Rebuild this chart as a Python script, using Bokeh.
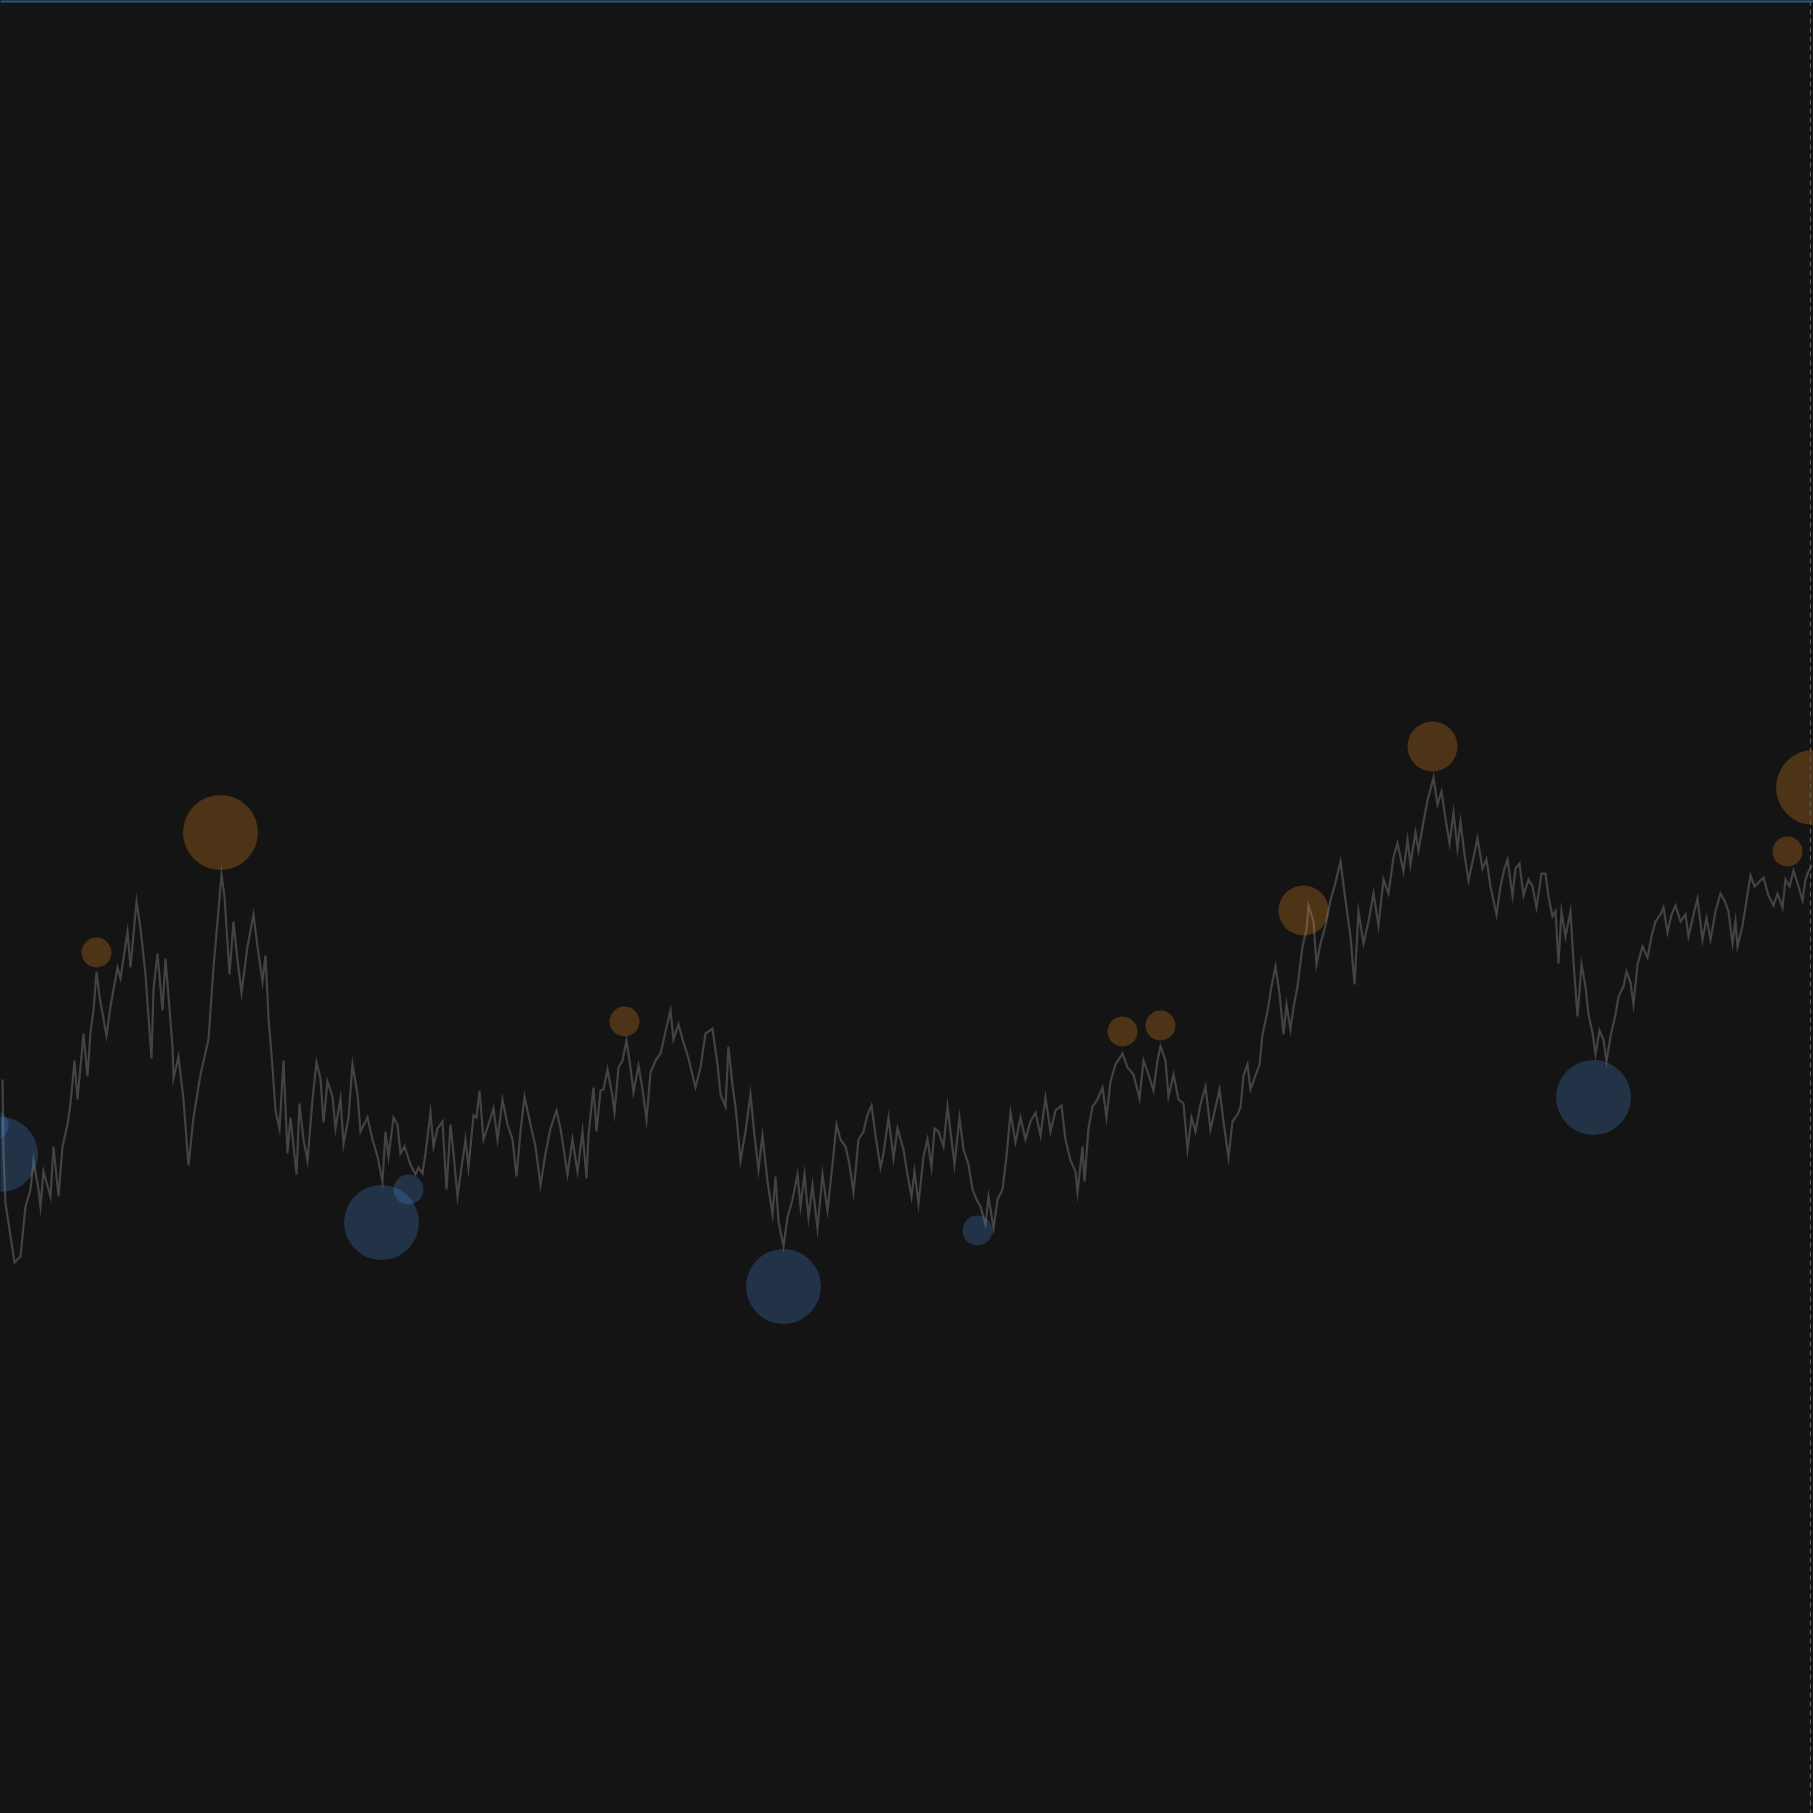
from bokeh.plotting import figure
from bokeh.models import Range1d, Span, ColumnDataSource, GlobalInlineStyleSheet
from bokeh.embed import file_html
from bokeh.resources import INLINE

# ---- price path (day index, price) ----
day = [2, 3, 5, 14, 20, 25, 30, 33, 38, 40, 43, 50, 53, 58, 62, 67, 70, 74, 77, 83, 87, 90, 93, 96, 99,
       106, 110, 117, 120, 127, 130, 136, 140, 145, 151, 153, 157, 162, 165, 172, 173, 178, 183, 188, 193,
       200, 208, 213, 217, 221, 224, 229, 233, 237, 241, 247, 253, 257, 262, 265, 268, 272, 275, 279, 283,
       287, 290, 296, 299,
       303, 307, 312, 316, 320, 323, 327, 332, 335, 340, 343, 348, 352, 357, 360, 367, 372, 377, 382, 385,
       388, 393, 397, 400, 404, 410, 415, 418, 422, 425, 430, 433, 437, 442, 446, 450, 453, 457, 461, 465,
       468, 473, 476, 479, 483, 488, 493, 497, 502, 507, 512, 516, 520, 524, 530, 535, 540, 545, 550, 556,
       560, 567, 572, 577, 582, 586, 588, 593, 596, 600,
       603, 607, 612, 614, 618, 622, 626, 630, 633, 638, 642, 646, 650, 655, 660, 665, 670, 673, 678, 683,
       688, 695, 700, 705, 712, 717, 720, 725, 728, 732, 735, 740, 745, 750, 754, 758, 762, 767, 772, 775,
       778, 783, 787, 792, 797, 800, 804, 808, 812, 817, 822, 827, 832, 836, 840, 845, 849, 853, 858, 863,
       867, 871, 875, 880, 883, 888, 893, 897,
       903, 907, 911, 914, 918, 923, 927, 931, 934, 938, 943, 947, 950, 954, 959, 963, 968, 972, 976, 980,
       985, 988, 993, 997, 1002, 1006, 1010, 1015, 1020, 1025, 1030, 1035, 1040, 1045, 1050, 1055, 1061,
       1065, 1070, 1075, 1077, 1082, 1084, 1088, 1092, 1097, 1102, 1106, 1110, 1115, 1122, 1127, 1133, 1139,
       1143, 1148, 1153, 1157, 1160, 1165, 1168, 1173, 1178, 1183, 1187, 1191, 1195,
       1200, 1205, 1210, 1215, 1219, 1223, 1228, 1232, 1237, 1240, 1243, 1247, 1250, 1255, 1259, 1262, 1267,
       1271, 1275, 1279, 1283, 1286, 1290, 1293, 1297, 1302, 1306, 1308, 1313, 1316, 1320, 1325, 1330, 1335,
       1340, 1345, 1350, 1354, 1358, 1363, 1368, 1373, 1378, 1383, 1388, 1393, 1397, 1403, 1407, 1410, 1415,
       1418, 1423, 1427, 1430, 1433, 1437, 1441, 1445, 1449, 1453, 1457, 1460, 1464, 1468, 1473, 1477, 1482,
       1486, 1490, 1496,
       1500, 1504, 1507, 1512, 1515, 1519, 1523, 1528, 1532, 1536, 1541, 1545, 1548, 1552, 1555, 1558, 1561,
       1565, 1570, 1573, 1577, 1581, 1585, 1588, 1592, 1595, 1599, 1603, 1606, 1610, 1615, 1618, 1623, 1626,
       1630, 1633, 1637, 1642, 1647, 1651, 1655, 1660, 1663, 1667, 1671, 1675, 1680, 1685, 1688, 1693, 1697,
       1702, 1706, 1710, 1715, 1720, 1724, 1728, 1732, 1735, 1737, 1742, 1746, 1750, 1754, 1758, 1763, 1768,
       1773, 1777, 1782, 1785, 1789, 1793, 1798, 1802, 1805, 1808, 1811]

price = [73.4, 66.0, 61.0, 55.1, 55.7, 60.7, 62.4, 65.3, 62.4, 60.7, 64.2, 61.7, 66.7, 61.7, 66.7, 68.9, 71.0,
         75.3, 71.4, 78.0, 73.7, 78.2, 80.3, 84.2, 81.7, 77.8, 80.7, 84.6, 83.5, 88.2, 84.6, 91.2, 88.5, 83.9,
         75.5, 82.4, 86.0, 80.3, 85.5, 76.7, 73.5, 75.7, 71.4, 64.8, 69.6, 73.9, 77.4, 84.6, 89.2, 93.9, 91.7,
         83.9, 89.2, 85.3, 82.1, 86.7, 89.9, 86.7, 83.2, 85.8, 79.6, 74.6, 70.3, 68.5, 75.3, 66.0, 69.6, 63.9,
         71.0,
         67.4, 65.3, 71.4, 75.1, 73.5, 69.1, 73.2, 71.7, 68.5, 71.5, 66.9, 69.6, 74.9, 71.9, 68.2, 69.6, 67.4,
         65.7, 63.2, 68.2, 65.7, 69.6, 68.9, 66.0, 66.7, 64.9, 63.9, 64.6, 64.0, 66.0, 70.1, 66.7, 68.5, 69.2,
         62.4, 68.9, 66.0, 61.7, 64.6, 67.4, 64.6, 69.8, 69.6, 72.3, 67.4, 68.9, 70.5, 67.4, 71.4, 68.9, 67.4,
         63.7, 68.2, 71.7, 68.9, 66.7, 62.8, 66.0, 68.5, 70.3, 68.5, 63.9, 67.4, 64.2, 68.2, 63.5, 67.8, 72.6,
         68.2, 72.3,
         72.4, 74.4, 71.7, 70.1, 74.6, 75.3, 77.3, 74.6, 72.1, 74.8, 72.4, 69.4, 74.1, 75.3, 76.0, 78.2, 80.3,
         77.4, 78.9, 77.1, 75.5, 72.6, 74.6, 78.0, 78.5, 74.9, 71.9, 70.7, 76.7, 72.8, 70.7, 65.3, 68.2, 71.9,
         67.8, 64.4, 67.8, 63.2, 59.9, 63.7, 59.2, 56.7, 59.6, 61.4, 63.9, 60.7, 63.9, 59.6, 62.8, 58.5, 63.9,
         60.3, 64.9, 68.9, 67.4, 66.7, 64.9, 62.1, 67.4, 68.2, 69.9, 70.8, 67.8, 64.6, 66.0, 69.6, 65.5, 68.5,
         66.4, 63.9, 61.7, 64.2, 61.0, 65.7, 67.4, 64.6, 68.5, 68.2, 66.7, 70.7, 68.2, 64.9, 69.6, 66.4, 64.9,
         62.4, 61.4, 60.7, 58.9, 61.7, 58.5, 61.4, 62.4, 65.7, 70.1, 67.1, 69.6, 67.4, 69.2, 70.1, 67.8, 71.6,
         68.2, 70.3, 70.8, 67.4, 65.3, 64.2, 62.1, 66.7, 63.2, 68.5, 70.7, 71.4, 72.6, 69.6, 73.2, 74.9, 76.0,
         74.6, 73.9, 71.5, 75.3, 73.9, 72.3, 75.3, 76.7, 75.3, 71.7, 73.9, 71.4, 71.0, 66.4, 69.6, 68.2,
         70.9, 72.7, 68.4, 70.6, 72.4, 69.2, 65.6, 69.2, 69.9, 70.6, 73.8, 74.9, 72.4, 73.8, 74.9, 77.9, 80.2,
         82.7, 84.7, 82.0, 77.9, 80.9, 78.4, 80.6, 82.7, 86.7, 88.4, 90.8, 89.2, 84.9, 87.0, 88.8, 91.3, 93.1,
         95.2, 91.3, 87.7, 82.9, 90.2, 87.0, 89.2, 92.0, 88.8, 93.4, 92.0, 95.6, 97.0, 94.2, 97.4, 94.9, 98.1,
         96.3, 99.2, 101.3, 102.4, 103.6, 100.9, 102.2, 99.5, 97.0, 100.1, 96.5, 99.2, 95.9, 93.3, 95.6, 97.5,
         94.5, 95.4, 92.7, 89.9,
         92.7, 94.5, 95.4, 91.8, 94.5, 95.0, 91.8, 93.4, 92.7, 90.6, 94.0, 94.0, 91.7, 89.7, 90.2, 85.0, 90.2,
         87.7, 90.2, 85.2, 79.7, 84.9, 82.7, 79.9, 78.1, 75.9, 78.3, 77.4, 75.2, 77.7, 79.9, 81.7, 82.7, 84.2,
         83.1, 80.9, 84.9, 86.7, 85.6, 87.7, 89.2, 89.9, 90.6, 88.1, 89.9, 90.8, 89.2, 89.9, 87.7, 89.9, 91.5,
         87.4, 89.5, 87.4, 90.2, 92.0, 91.3, 90.2, 87.0, 89.2, 86.7, 88.8, 91.3, 93.8, 92.7, 93.1, 93.6, 91.8,
         90.8, 92.0, 90.6, 93.4, 92.7, 94.3, 92.7, 91.3, 93.4, 94.2, 94.8]

# ---- swing highs (peaks) ----
peak_day = [96, 220, 624, 1122, 1160, 1303, 1432, 1787, 1813]
peak_price = [86.1, 98.1, 79.2, 78.2, 78.8, 90.3, 106.7, 96.2, 102.6]
peak_strength = [1, 3, 1, 1, 1, 2, 2, 1, 3]

# ---- swing lows (troughs) ----
trough_day = [0, -7, 381, 408, 783, 977, 1593]
trough_price = [65.9, 68.8, 59.1, 62.4, 52.7, 58.3, 71.6]
trough_strength = [3, 1, 3, 1, 3, 1, 3]

last_day = 1810

BG = "#141414"
size_of = {1: 30, 2: 50, 3: 75}

p = figure(width=1813, height=1813, output_backend="svg", toolbar_location=None,
           x_range=Range1d(0, 1813), y_range=Range1d(0, 181.3),
           min_border=0, min_border_left=0, min_border_right=0,
           min_border_top=0, min_border_bottom=0)
p.background_fill_color = BG
p.border_fill_color = BG
p.outline_line_color = None
p.axis.visible = False
p.grid.visible = False

p.line(day, price, line_color="#434343", line_width=2.2, line_join="miter")

peaks = ColumnDataSource(dict(x=peak_day, y=peak_price,
                              s=[size_of[k] for k in peak_strength]))
troughs = ColumnDataSource(dict(x=trough_day, y=trough_price,
                                s=[size_of[k] for k in trough_strength]))
p.scatter("x", "y", size="s", source=peaks, fill_color="#f7931a", fill_alpha=0.25,
          line_color=None)
p.scatter("x", "y", size="s", source=troughs, fill_color="#4a90e2", fill_alpha=0.25,
          line_color=None)

p.add_layout(Span(location=last_day, dimension="height", line_color="#5a5a5a",
                  line_dash="5 4", line_width=1.2))
p.add_layout(Span(location=181.3, dimension="width", line_color="#245a8f",
                  line_width=4))

p.stylesheets = [GlobalInlineStyleSheet(css="html, body { margin: 0; padding: 0; background: #141414; overflow: hidden; }")]

open("out.html", "w").write(file_html(p, INLINE))
